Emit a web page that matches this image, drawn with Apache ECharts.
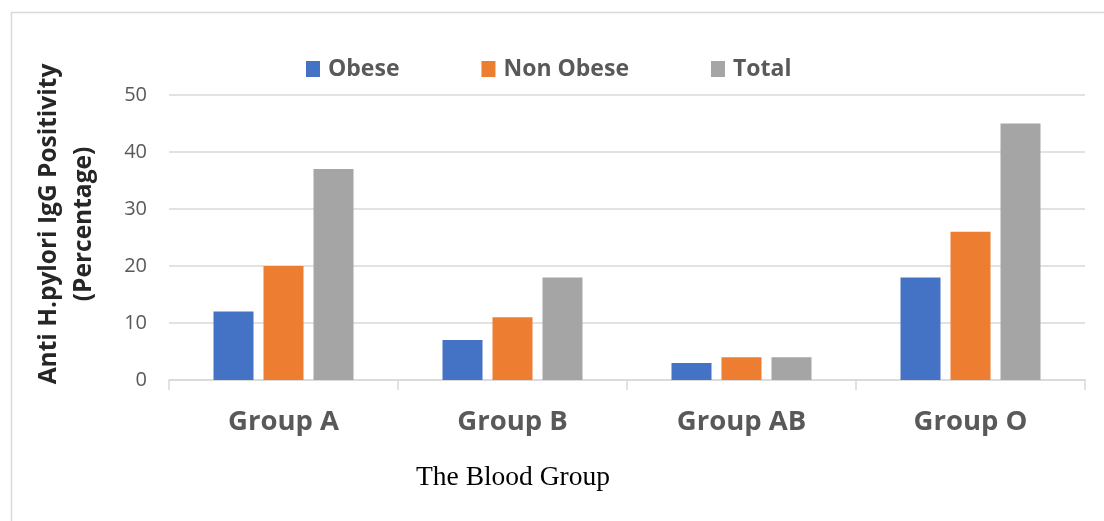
<!DOCTYPE html>
<html><head><meta charset="utf-8">
<script src="https://cdn.jsdelivr.net/npm/echarts@6/dist/echarts.min.js"></script>
<style>html,body{margin:0;padding:0;background:#fff}#c{width:1104px;height:521px}</style>
</head><body><div id="c"></div>
<script>
const categories = ['Group A', 'Group B', 'Group AB', 'Group O'];
const obese = [12, 7, 3, 18];
const nonObese = [20, 11, 4, 26];
const total = [37, 18, 4, 45];
const seriesNames = ['Obese', 'Non Obese', 'Total'];
const colors = ['#4472C4', '#ED7D31', '#A5A5A5'];
const yTitle = 'Anti H.pylori IgG Positivity\n(Percentage)';
const xTitle = 'The Blood Group';

const chart = echarts.init(document.getElementById('c'), null, {renderer: 'canvas'});
const sans = 'Open Sans';
chart.setOption({
  animation: false,
  color: colors,
  grid: {left: 169, right: 19, top: 95, bottom: 141},
  legend: {
    data: seriesNames,
    top: 56,
    left: 306,
    padding: 0,
    itemWidth: 14, itemHeight: 16, itemGap: 82,
    icon: 'rect',
    textStyle: {fontFamily: sans, fontWeight: 'bold', fontSize: 23, lineHeight: 26, color: '#595959', padding: [0,0,0,3]}
  },
  xAxis: {
    type: 'category', data: categories,
    axisLine: {lineStyle: {color: '#d9d9d9', width: 1.5}},
    axisTick: {show: true, length: 10, lineStyle: {color: '#d9d9d9', width: 1.5}},
    axisLabel: {margin: 28, fontFamily: sans, fontWeight: 'bold', fontSize: 27.5, color: '#595959'}
  },
  yAxis: {
    type: 'value', min: 0, max: 50, interval: 10,
    axisLine: {show: false}, axisTick: {show: false},
    splitLine: {lineStyle: {color: '#d9d9d9', width: 1.5}},
    axisLabel: {margin: 22, fontFamily: sans, fontSize: 20, color: '#595959'}
  },
  series: [
    {name: seriesNames[0], type: 'bar', data: obese, barWidth: 40, barGap: '25%'},
    {name: seriesNames[1], type: 'bar', data: nonObese, barWidth: 40, barGap: '25%'},
    {name: seriesNames[2], type: 'bar', data: total, barWidth: 40, barGap: '25%'}
  ],
  graphic: [
    {type: 'rect', left: 9, top: 10, shape: {width: 1200, height: 600}, style: {fill: 'none', stroke: '#d9d9d9', lineWidth: 1.5}, silent: true},
    {type: 'text', x: 67, y: 224, rotation: Math.PI / 2,
      style: {text: yTitle, fontFamily: sans, fontWeight: 'bold', fontSize: 24.5, lineHeight: 35, fill: '#262626', align: 'center', verticalAlign: 'middle'}},
    {type: 'text', x: 513, y: 478,
      style: {text: xTitle, fontFamily: 'Liberation Serif', fontSize: 27.5, fill: '#000', align: 'center', verticalAlign: 'middle'}}
  ]
});
</script></body></html>
